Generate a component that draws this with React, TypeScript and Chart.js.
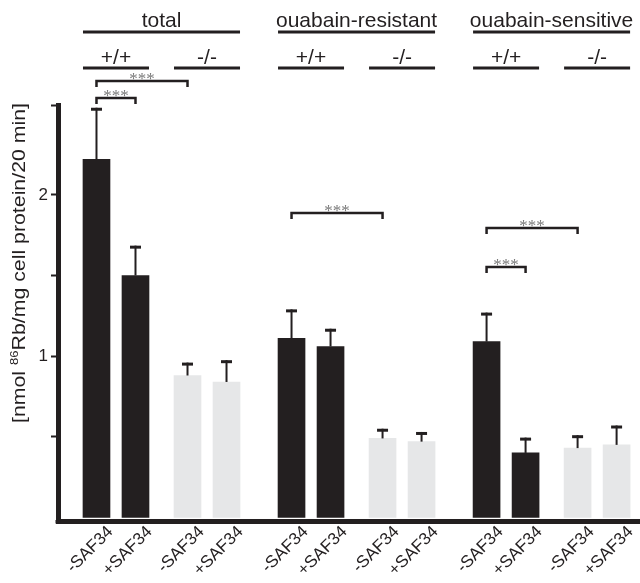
import React, { useEffect, useRef } from 'react';
import { Chart, registerables } from 'chart.js';

Chart.register(...registerables);

// ---------- data ----------
const CATEGORIES = ['-SAF34', '+SAF34', '-SAF34', '+SAF34', '-SAF34', '+SAF34', '-SAF34', '+SAF34', '-SAF34', '+SAF34', '-SAF34', '+SAF34'];
const GROUPS = ['total', 'ouabain-resistant', 'ouabain-sensitive'];
const GENOTYPES = ['+/+', '-/-'];
const MEANS = [2.22, 1.5, 0.88, 0.84, 1.11, 1.06, 0.49, 0.47, 1.09, 0.4, 0.43, 0.45];
const ERRORS = [0.32, 0.185, 0.08, 0.135, 0.18, 0.11, 0.06, 0.06, 0.18, 0.095, 0.08, 0.12];
const Y_TICKS = [0.5, 1, 1.5, 2];
const Y_LABELED = [1, 2];
const SIG_FROM = [0, 0, 4, 8, 8];
const SIG_TO = [2, 1, 6, 10, 9];
const SIG_LEVEL = [2.706, 2.601, 1.888, 1.795, 1.553];
const SIG_TEXT = '***';

const DARK = '#231f20';
const LIGHT = '#e6e7e8';
const FONT = '"Liberation Sans", Arial, Helvetica, sans-serif';

// bar slot positions: 3 groups, 2 genotypes, 2 conditions
const slot = (i: number) => {
  const g = Math.floor(i / 4);
  const p = Math.floor((i % 4) / 2);
  const b = i % 2;
  return g * 15 + p * 7 + b * 3;
};
const POSITIONS = CATEGORIES.map((_, i) => slot(i));
const COLORS = CATEGORIES.map((_, i) => (Math.floor((i % 4) / 2) === 0 ? DARK : LIGHT));

const overlayPlugin = {
  id: 'overlay',
  afterDatasetsDraw(chart: any) {
    const ctx = chart.ctx;
    const y = chart.scales.y;
    const meta = chart.getDatasetMeta(0);
    ctx.save();
    ctx.strokeStyle = DARK;
    MEANS.forEach((m, i) => {
      const el = meta.data[i];
      const px = el.x;
      const top = y.getPixelForValue(m);
      const cap = y.getPixelForValue(m + ERRORS[i]);
      ctx.lineWidth = 2;
      ctx.beginPath();
      ctx.moveTo(px, top);
      ctx.lineTo(px, cap);
      ctx.stroke();
      ctx.lineWidth = 3;
      ctx.beginPath();
      ctx.moveTo(px - 5.5, cap + 1.5);
      ctx.lineTo(px + 5.5, cap + 1.5);
      ctx.stroke();
    });
    ctx.restore();
  },
  afterDraw(chart: any) {
    const ctx = chart.ctx;
    const y = chart.scales.y;
    const meta = chart.getDatasetMeta(0);
    const { top, left, bottom } = chart.chartArea;
    const edgeL = (i: number) => meta.data[i].x - meta.data[i].width / 2;
    const edgeR = (i: number) => meta.data[i].x + meta.data[i].width / 2;
    ctx.save();
    ctx.fillStyle = DARK;
    ctx.strokeStyle = DARK;
    // close the axis corner
    ctx.fillRect(left - 2.5, bottom - 1, 5, 3.5);
    ctx.textAlign = 'center';
    ctx.textBaseline = 'alphabetic';
    // group headers
    GROUPS.forEach((name, g) => {
      const l = edgeL(g * 4);
      const r = edgeR(g * 4 + 3);
      ctx.lineWidth = 3;
      ctx.beginPath();
      ctx.moveTo(l, top - 73);
      ctx.lineTo(r, top - 73);
      ctx.stroke();
      ctx.font = `21px ${FONT}`;
      ctx.fillText(name, (l + r) / 2, top - 78);
      GENOTYPES.forEach((gt, p) => {
        const a = g * 4 + p * 2;
        const l2 = edgeL(a);
        const r2 = edgeR(a + 1);
        ctx.lineWidth = 3;
        ctx.beginPath();
        ctx.moveTo(l2, top - 37);
        ctx.lineTo(r2, top - 37);
        ctx.stroke();
        ctx.font = `21px ${FONT}`;
        ctx.fillText(gt, (l2 + r2) / 2, top - 41);
      });
    });
    // significance brackets
    SIG_FROM.forEach((f, k) => {
      const x1 = meta.data[f].x;
      const x2 = meta.data[SIG_TO[k]].x;
      const py = y.getPixelForValue(SIG_LEVEL[k]);
      ctx.lineWidth = 2.5;
      ctx.lineJoin = 'miter';
      ctx.beginPath();
      ctx.moveTo(x1, py + 6);
      ctx.lineTo(x1, py);
      ctx.lineTo(x2, py);
      ctx.lineTo(x2, py + 6);
      ctx.stroke();
      ctx.fillStyle = '#7a7a7a';
      ctx.font = `17px "Liberation Serif", "Times New Roman", serif`;
      ctx.fillText(SIG_TEXT, (x1 + x2) / 2, py + 3);
      ctx.fillStyle = DARK;
    });
    // y axis title with superscript
    const size = 18;
    const p1 = '[nmol ';
    const sup = '86';
    const p2 = 'Rb/mg cell protein/20 min]';
    ctx.font = `${size}px ${FONT}`;
    const w1 = ctx.measureText(p1).width;
    const w3 = ctx.measureText(p2).width;
    ctx.font = `11px ${FONT}`;
    const w2 = ctx.measureText(sup).width;
    const total = w1 + w2 + w3;
    const sx = 320 / total;
    ctx.translate(20, 263);
    ctx.rotate(-Math.PI / 2);
    ctx.scale(sx, 1);
    ctx.textAlign = 'left';
    const base = 0.26 * size;
    let cx = -total / 2;
    ctx.font = `${size}px ${FONT}`;
    ctx.fillText(p1, cx, base);
    cx += w1;
    ctx.font = `11px ${FONT}`;
    ctx.fillText(sup, cx, base - 7);
    cx += w2;
    ctx.font = `${size}px ${FONT}`;
    ctx.fillText(p2, cx, base);
    ctx.restore();
  },
};

export default function App() {
  const ref = useRef<HTMLCanvasElement>(null);
  useEffect(() => {
    document.body.style.margin = '0';
    const canvas = ref.current;
    if (!canvas) return;
    const chart = new Chart(canvas, {
      type: 'bar',
      data: {
        datasets: [
          {
            data: MEANS.map((v, i) => ({ x: POSITIONS[i], y: v })),
            backgroundColor: COLORS,
            borderWidth: 0,
            barThickness: 27,
          } as any,
        ],
      },
      options: {
        animation: false,
        responsive: false,
        maintainAspectRatio: false,
        layout: { padding: { top: 105, left: 0, right: 0, bottom: 0 } },
        plugins: { legend: { display: false }, tooltip: { enabled: false } },
        scales: {
          x: {
            type: 'linear',
            min: -2.96,
            max: 41.8,
            offset: false,
            grid: { display: true, drawOnChartArea: false, drawTicks: false, color: 'rgba(0,0,0,0)' },
            border: { display: true, width: 5, color: DARK },
            afterBuildTicks: (s: any) => {
              s.ticks = POSITIONS.map((v) => ({ value: v }));
            },
            afterFit: (s: any) => {
              s.height = 62;
            },
            ticks: {
              autoSkip: false,
              maxRotation: 45,
              minRotation: 45,
              labelOffset: 14,
              padding: 1,
              color: DARK,
              font: { family: FONT, size: 17 },
              callback: (_v: any, i: number) => CATEGORIES[i],
            },
          } as any,
          y: {
            type: 'linear',
            min: -0.022,
            max: 2.557,
            afterBuildTicks: (s: any) => {
              s.ticks = [...Y_TICKS, s.max].map((v) => ({ value: v }));
            },
            afterFit: (s: any) => {
              s.width = 58;
            },
            grid: { display: true, drawOnChartArea: false, drawTicks: true, tickLength: 7, tickWidth: 2, color: DARK, tickColor: DARK },
            border: { display: true, width: 5, color: DARK },
            ticks: {
              autoSkip: false,
              padding: 3,
              color: DARK,
              font: { family: FONT, size: 17 },
              callback: (v: any) => (Y_LABELED.includes(v) ? String(v) : ''),
            },
          } as any,
        },
      },
      plugins: [overlayPlugin],
    });
    return () => chart.destroy();
  }, []);
  return (
    <div style={{ width: 640, height: 583 }}>
      <canvas ref={ref} width={640} height={583} style={{ display: 'block' }} />
    </div>
  );
}
